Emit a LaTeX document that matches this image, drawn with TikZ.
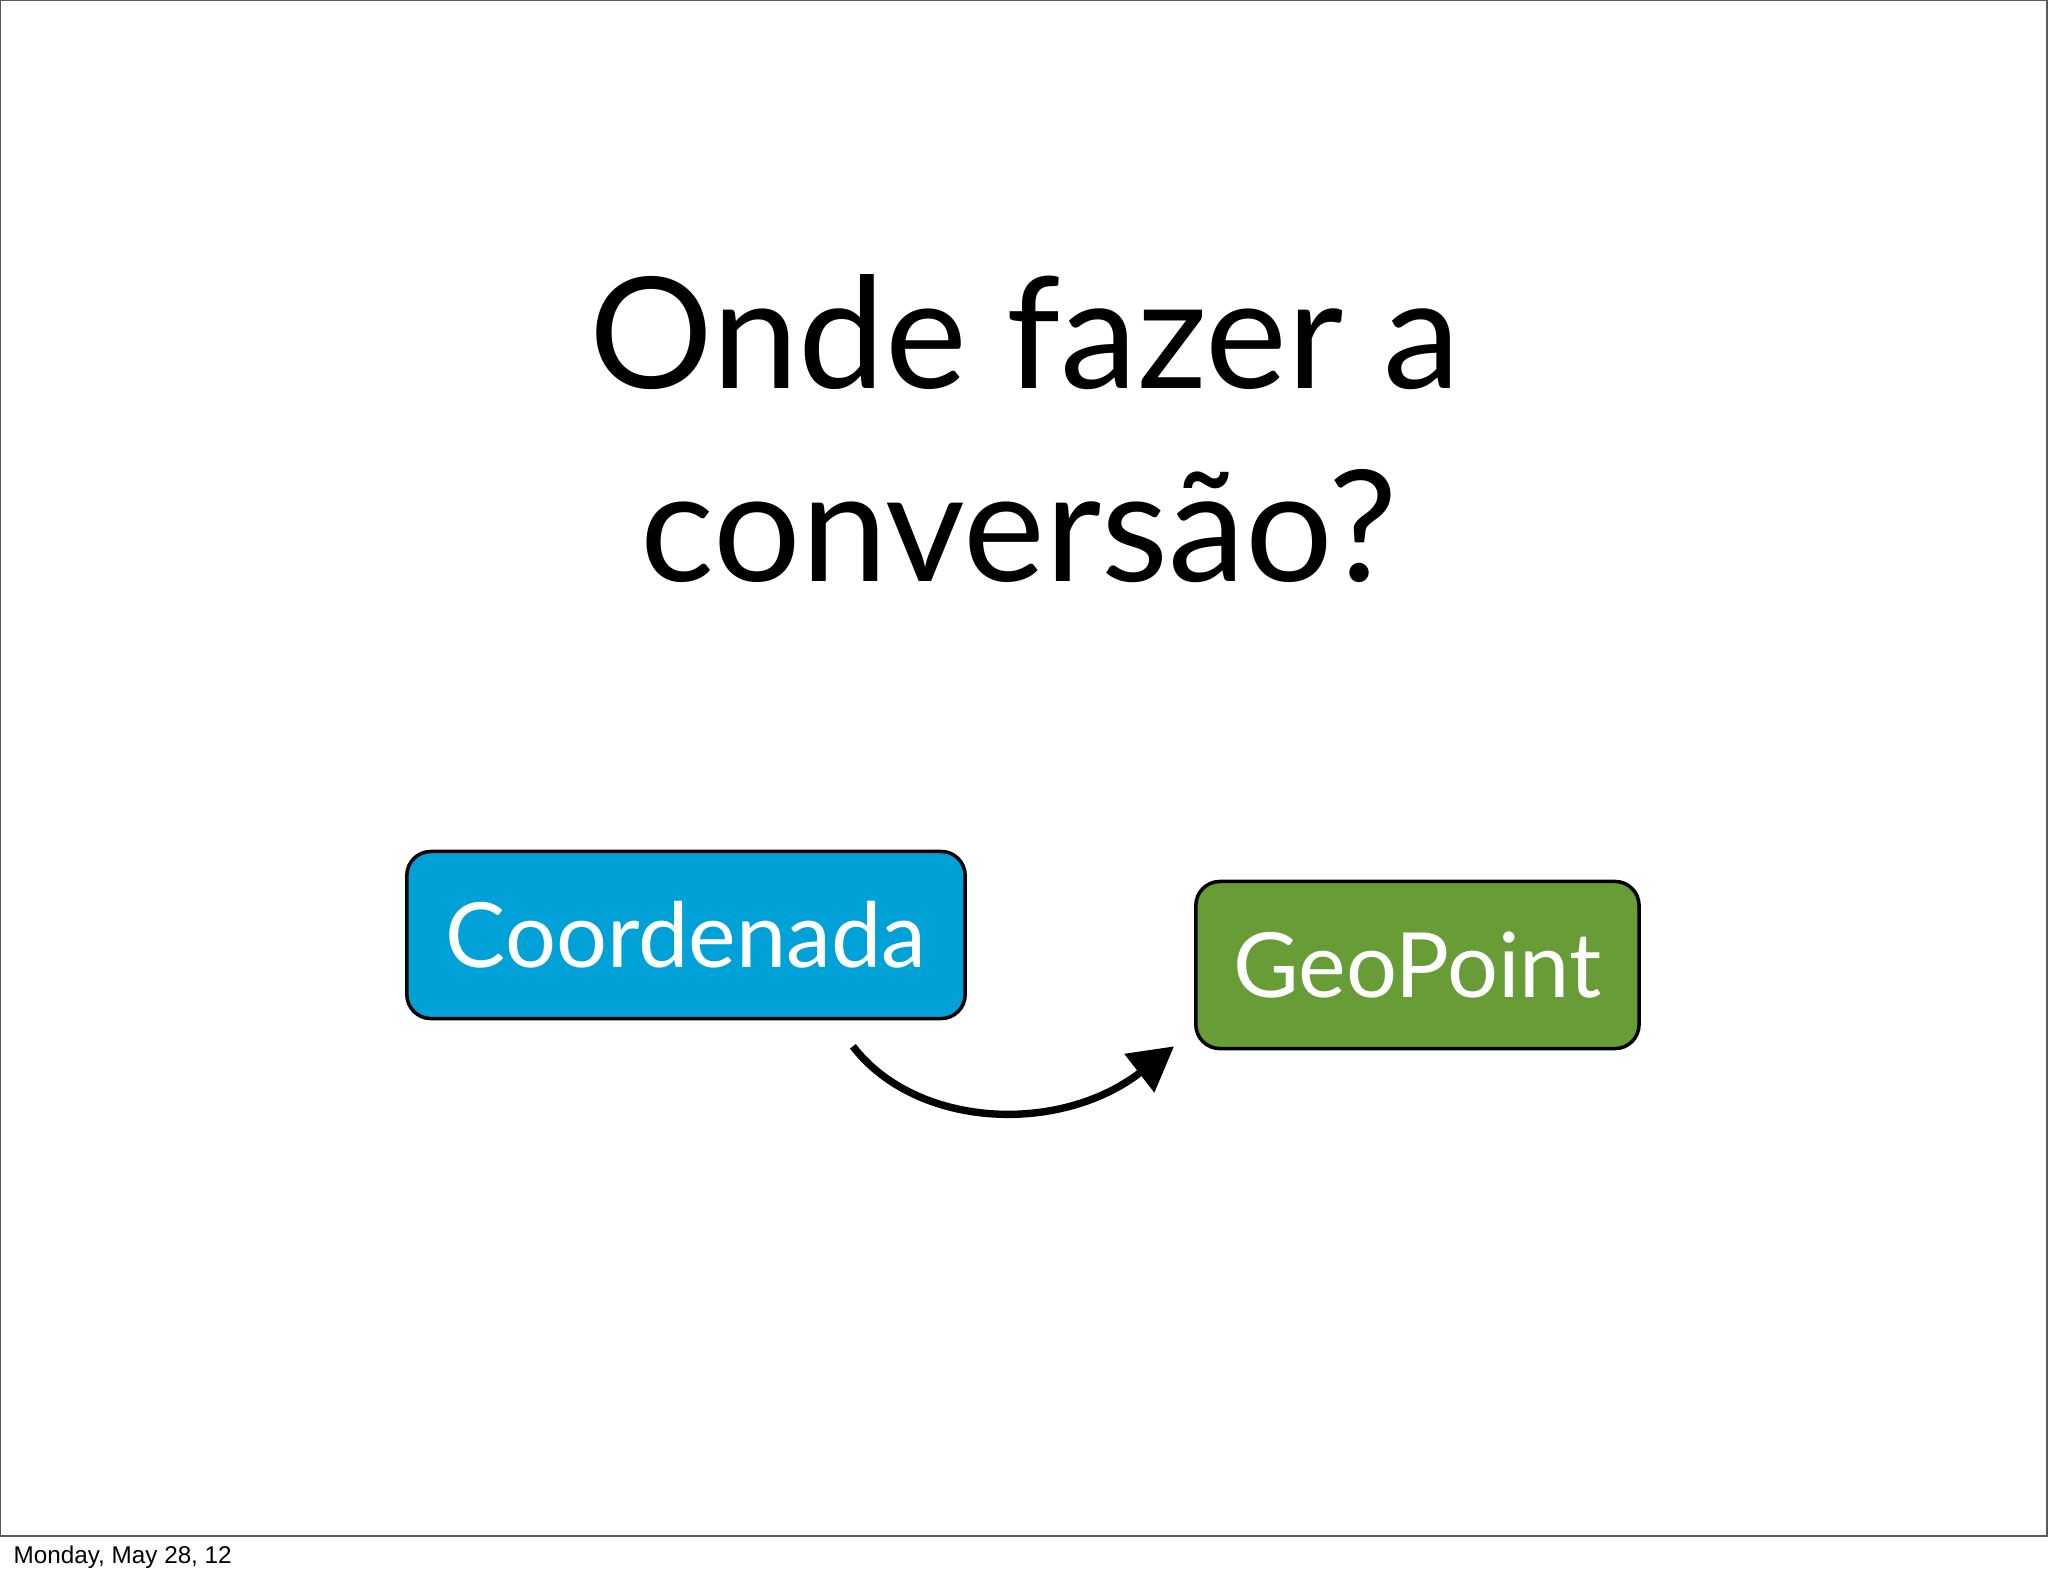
\documentclass[tikz,border=0pt]{standalone}
\usepackage{fontspec}
\setmainfont{Lato}
\newfontfamily\footfont{Liberation Sans}
\usetikzlibrary{arrows.meta,positioning,calc}
\definecolor{coordblue}{RGB}{0,161,214}
\definecolor{geogreen}{RGB}{103,156,54}
\definecolor{framegray}{RGB}{90,90,90}

\begin{document}
\begin{tikzpicture}[x=0.01cm,y=-0.01cm,
    classbox/.style={draw=black,line width=1pt,rounded corners=0.24cm,inner sep=0pt,
      minimum height=1.67cm,text=white,font=\fontsize{25.6}{30}\selectfont},
    brush/.style={line width=2.1pt,-{Triangle[length=12.5pt,width=13.4pt]}}]
            \useasboundingbox (0,0) rectangle (2048,1576);
            \draw [framegray,line width=0.5pt] (0,0) rectangle (2047,1536);
            \node [anchor=base,font=\fontsize{44}{54}\selectfont] (title1) at (1025,389) {Onde fazer a};
            \node [anchor=base,font=\fontsize{44}{54}\selectfont] (title2) at (1019,581) {conversão?};
            \node [classbox,fill=coordblue,minimum width=5.58cm] (coord) at (686,935) {Coordenada};
            \node [classbox,fill=geogreen,minimum width=4.43cm,right=2.27cm of coord,yshift=-0.3cm] (geo) {GeoPoint};
            \coordinate (from) at ($(coord.south east)+(-114,26)$);
            \coordinate (to) at ($(geo.south west)+(-20,-4)$);
            \draw [brush] (from) .. controls +(63,82) and +(-115,89) .. (to);
            \node [anchor=base west,inner sep=0pt,font=\footfont\fontsize{6.9}{8}\selectfont] (date) at (13,1563) {Monday, May 28, 12};
         \end{tikzpicture}
\end{document}
